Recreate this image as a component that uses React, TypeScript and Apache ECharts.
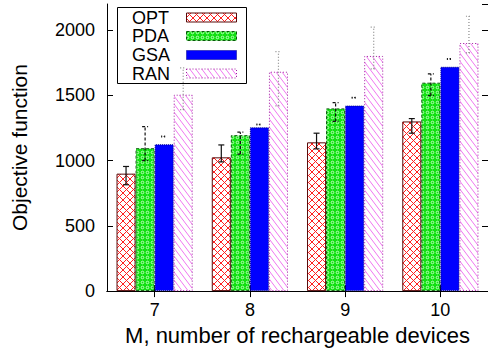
import { useEffect, useRef } from 'react';
import * as echarts from 'echarts';

const categories = ['7', '8', '9', '10'];
const seriesNames = ['OPT', 'PDA', 'GSA', 'RAN'];
const optValues = [900, 1025, 1140, 1300];
const pdaValues = [1095, 1195, 1400, 1597];
const gsaValues = [1125, 1255, 1422, 1719];
const ranValues = [1505, 1681, 1802, 1901];
const optLow = [815, 990, 1090, 1210];
const optHigh = [955, 1120, 1210, 1322];
const pdaLow = [1000, 1050, 1300, 1498];
const pdaHigh = [1260, 1218, 1445, 1665];
const gsaLow = [1182, 1274, 1479, 1776];
const gsaHigh = [1188, 1280, 1485, 1782];
const ranLow = [1390, 1420, 1703, 1825];
const ranHigh = [1710, 1835, 2023, 2106];

const FONT = 'Liberation Sans, Arial, Helvetica, sans-serif';

function makeTile(w: number, h: number, draw: (ctx: CanvasRenderingContext2D) => void) {
  const c = document.createElement('canvas');
  c.width = w;
  c.height = h;
  const ctx = c.getContext('2d')!;
  draw(ctx);
  return { image: c, repeat: 'repeat', imageWidth: w, imageHeight: h } as any;
}

function buildPatterns() {
  const P = 7;
  const cross = makeTile(P, P, (ctx) => {
    ctx.fillStyle = '#ffffff';
    ctx.fillRect(0, 0, P, P);
    ctx.fillStyle = '#ff2020';
    for (let x = 0; x < P; x++) {
      for (let y = 0; y < P; y++) {
        if ((x - y + P) % P === 0 || (x + y) % P === 0) ctx.fillRect(x, y, 1, 1);
      }
    }
  });
  const dots = makeTile(5, 5, (ctx) => {
    ctx.fillStyle = '#12e012';
    ctx.fillRect(0, 0, 5, 5);
    ctx.strokeStyle = '#c8ffc8';
    ctx.lineWidth = 0.9;
    ctx.beginPath();
    ctx.arc(2.5, 2.5, 1.3, 0, Math.PI * 2);
    ctx.stroke();
  });
  const hatch = makeTile(6, 8, (ctx) => {
    ctx.fillStyle = '#ffffff';
    ctx.fillRect(0, 0, 6, 8);
    ctx.strokeStyle = '#ee66ee';
    ctx.lineWidth = 0.9;
    for (let k = -1; k <= 1; k++) {
      ctx.beginPath();
      ctx.moveTo(-1 + k * 6, -4 / 3);
      ctx.lineTo(7 + k * 6, 8 + 4 / 3);
      ctx.stroke();
    }
  });
  return { cross, dots, hatch };
}

export default function App() {
  const ref = useRef<HTMLDivElement>(null);
  useEffect(() => {
    document.body.style.margin = '0';
    const chart = echarts.init(ref.current!, null, { renderer: 'svg', width: 488, height: 351 });
    const p = buildPatterns();
    const values = [optValues, pdaValues, gsaValues, ranValues];
    const lows = [optLow, pdaLow, gsaLow, ranLow];
    const highs = [optHigh, pdaHigh, gsaHigh, ranHigh];
    const fills = [p.cross, p.dots, '#0000ff', p.hatch];
    const borders = ['#5a0a0a', '#0a5a0a', '#00008a', '#a020a0'];
    const borderTypes: any[] = ['solid', [3, 2], [1, 1], [1, 2]];
    const errColors = ['#111111', '#111111', '#111111', '#888888'];
    const errDash: any[] = [null, [3, 2], [1, 2], [1, 2]];

    const barSeries = seriesNames.map((name, i) => ({
      type: 'bar',
      name,
      data: values[i],
      xAxisIndex: 0,
      yAxisIndex: 0,
      barGap: '0%',
      barCategoryGap: '20%',
      itemStyle: {
        color: fills[i],
        borderColor: borders[i],
        borderWidth: 1,
        borderType: borderTypes[i],
      },
      z: 2,
    }));

    const errSeries = seriesNames.map((name, s) => ({
      type: 'custom',
      name: name + ' error',
      xAxisIndex: 0,
      yAxisIndex: 0,
      z: 5,
      data: categories.map((_, ci) => [ci, lows[s][ci], highs[s][ci], s]),
      encode: { x: 0, y: [1, 2] },
      renderItem: (params: any, api: any) => {
        const ci = api.value(0);
        const lo = api.value(1);
        const hi = api.value(2);
        const si = api.value(3);
        const band = api.size([1, 0])[0];
        const bw = (band * 0.8) / 4;
        const cx = api.coord([ci, 0])[0] + (si - 1.5) * bw;
        const yLo = api.coord([ci, lo])[1];
        const yHi = api.coord([ci, hi])[1];
        const style = { stroke: errColors[si], lineWidth: 1.2, lineDash: errDash[si] };
        return {
          type: 'group',
          children: [
            { type: 'line', shape: { x1: cx, y1: yLo, x2: cx, y2: yHi }, style },
            { type: 'line', shape: { x1: cx - 3, y1: yHi, x2: cx + 3, y2: yHi }, style },
            { type: 'line', shape: { x1: cx - 3, y1: yLo, x2: cx + 3, y2: yLo }, style },
          ],
        };
      },
    }));

    const rowY = [17.5, 36, 55, 73.5];
    const legendEls: any[] = [
      {
        type: 'rect',
        shape: { x: 117.5, y: 7.5, width: 129, height: 76 },
        style: { fill: 'none', stroke: '#000', lineWidth: 1 },
        z: 10,
      },
    ];
    seriesNames.forEach((name, i) => {
      legendEls.push({
        type: 'text',
        x: 132,
        y: rowY[i],
        z: 10,
        style: { text: name, fontSize: 18, fontFamily: FONT, fill: '#000', verticalAlign: 'middle', align: 'left' },
      });
      legendEls.push({
        type: 'rect',
        z: 10,
        shape: { x: 186.5, y: rowY[i] - 4.5, width: 50, height: 9 },
        style: { fill: fills[i], stroke: borders[i], lineWidth: 1, lineDash: i === 0 ? null : borderTypes[i] },
      });
    });

    const axisLine = { show: true, lineStyle: { color: '#000', width: 1 } };
    chart.setOption({
      animation: false,
      backgroundColor: '#fff',
      grid: { left: 107, top: 4, width: 383, height: 289, containLabel: false },
      xAxis: [
        {
          type: 'category',
          data: categories,
          position: 'bottom',
          axisLine,
          axisTick: { show: true, inside: true, alignWithLabel: true, length: 6, lineStyle: { color: '#000' } },
          axisLabel: { fontSize: 18, fontFamily: FONT, color: '#000', margin: 10 },
          name: 'M, number of rechargeable devices',
          nameLocation: 'middle',
          nameGap: 25,
          nameTextStyle: { fontSize: 22, fontFamily: FONT, color: '#000' },
          splitLine: { show: false },
        },
        {
          type: 'category',
          data: categories,
          position: 'top',
          axisLine,
          axisTick: { show: true, inside: true, alignWithLabel: true, length: 6, lineStyle: { color: '#000' } },
          axisLabel: { show: false },
          splitLine: { show: false },
        },
      ],
      yAxis: [
        {
          type: 'value',
          min: 0,
          max: 2200,
          interval: 500,
          position: 'left',
          axisLine,
          axisTick: { show: true, inside: true, length: 6, lineStyle: { color: '#000' } },
          axisLabel: {
            fontSize: 18,
            fontFamily: FONT,
            color: '#000',
            margin: 12,
            showMaxLabel: false,
            formatter: (v: number) => String(v),
          },
          splitLine: { show: false },
          name: 'Objective function',
          nameLocation: 'middle',
          nameGap: 77,
          nameTextStyle: { fontSize: 21, fontFamily: FONT, color: '#000' },
        },
        {
          type: 'value',
          min: 0,
          max: 2200,
          interval: 500,
          position: 'right',
          axisLine,
          axisTick: { show: true, inside: true, length: 6, lineStyle: { color: '#000' } },
          axisLabel: { show: false },
          splitLine: { show: false },
        },
      ],
      series: [...barSeries, ...errSeries],
      graphic: legendEls,
    });
    return () => chart.dispose();
  }, []);
  return <div ref={ref} style={{ width: 488, height: 351 }} />;
}
